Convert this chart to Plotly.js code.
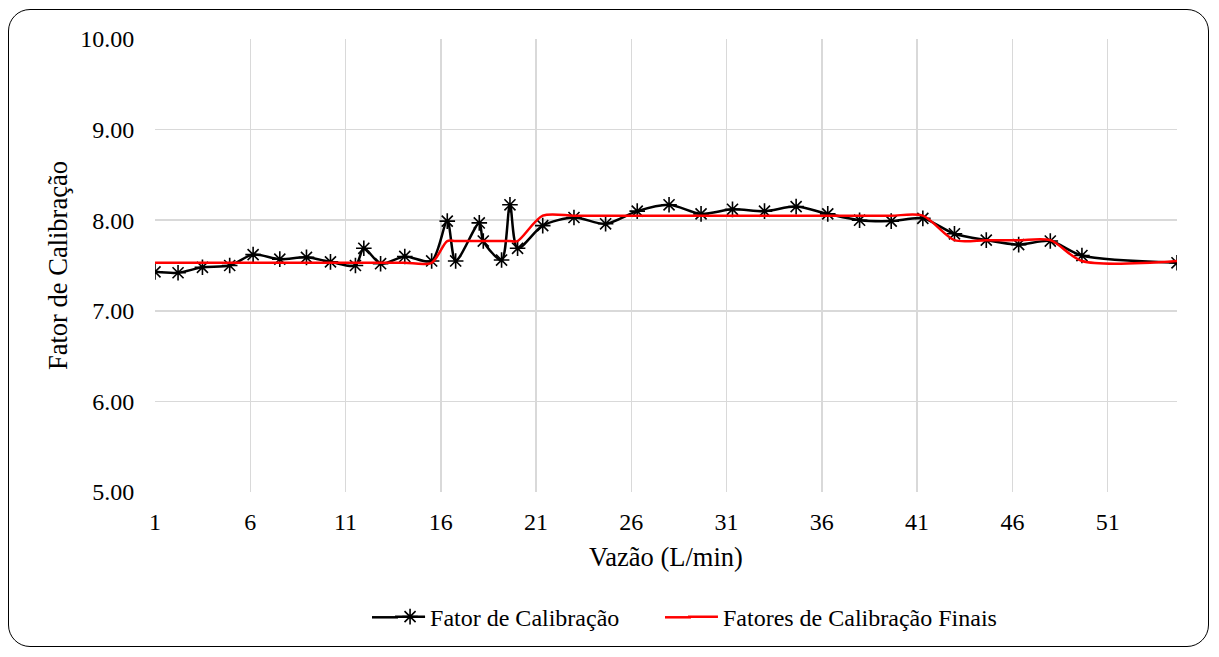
<!DOCTYPE html>
<html>
<head>
<meta charset="utf-8">
<script src="https://cdn.plot.ly/plotly-3.0.1.min.js"></script>
<style>
  html, body { margin: 0; padding: 0; background: #fff; }
  #wrap { position: relative; width: 1219px; height: 657px; }
  #chart { width: 1219px; height: 657px; }
  #frame { position: absolute; left: 8px; top: 9px; width: 1201px; height: 638px;
           border: 1.6px solid #000; border-radius: 22px; pointer-events: none; box-sizing: border-box; }
</style>
</head>
<body>
<div id="wrap">
  <div id="chart"></div>
  <div id="frame"></div>
</div>
<script>
// Vazão (L/min)
const vazao = [1, 2.21, 3.49, 4.92, 6.15, 7.55, 8.95, 10.21, 11.52, 11.96, 12.84, 14.11, 15.52,
  16.34, 16.78, 18.02, 18.23, 19.19, 19.63, 20.03, 21.35, 22.99, 24.65, 26.31, 27.98, 29.66,
  31.31, 32.99, 34.65, 36.31, 37.98, 39.64, 41.30, 42.96, 44.63, 46.33, 47.99, 49.65, 54.64];
// Fator de Calibração
const fator = [7.43, 7.42, 7.48, 7.50, 7.62, 7.57, 7.59, 7.54, 7.50, 7.69, 7.52, 7.60, 7.55,
  7.99, 7.55, 7.97, 7.77, 7.56, 8.17, 7.69, 7.94, 8.03, 7.96, 8.10, 8.17, 8.07,
  8.12, 8.10, 8.15, 8.07, 8.00, 7.99, 8.02, 7.85, 7.78, 7.73, 7.77, 7.61, 7.53];
// Fatores de Calibração Finais
const fatorFinal = [7.53, 7.53, 7.53, 7.53, 7.53, 7.53, 7.53, 7.53, 7.53, 7.53, 7.53, 7.53, 7.53,
  7.77, 7.77, 7.77, 7.77, 7.77, 7.77, 7.77, 8.05, 8.05, 8.05, 8.05, 8.05, 8.05,
  8.05, 8.05, 8.05, 8.05, 8.05, 8.05, 8.05, 7.78, 7.78, 7.78, 7.78, 7.55, 7.55];
const xTicks = [1, 6, 11, 16, 21, 26, 31, 36, 41, 46, 51];
const yTicks = [5, 6, 7, 8, 9, 10];

const FONT = 'Times New Roman, Liberation Serif, serif';

const traces = [
  {
    x: vazao, y: fator, name: 'Fator de Calibração', type: 'scatter', mode: 'lines+markers',
    legend: 'legend',
    line: { color: '#000000', width: 2.5, shape: 'spline', smoothing: 0.8 },
    marker: { symbol: 'asterisk-open', size: 13, color: '#000000', line: { color: '#000000', width: 1.6 } }
  },
  {
    x: vazao, y: fatorFinal, name: 'Fatores de Calibração Finais', type: 'scatter', mode: 'lines',
    legend: 'legend2',
    line: { color: '#ff0000', width: 2.5, shape: 'spline', smoothing: 0.8 }
  }
];

const legendBase = {
  orientation: 'h', y: -0.276, yanchor: 'middle', xanchor: 'left',
  font: { family: FONT, size: 24, color: '#000000' }, bgcolor: 'rgba(0,0,0,0)'
};

// plot area geometry used to place legend-symbol extensions (paper units)
const PL = 155, PW = 1022, PB = 492, PH = 453;
const px2x = p => (p - PL) / PW;
const py2y = p => (PB - p) / PH;
const legY = py2y(617.3);

const layout = {
  width: 1219, height: 657,
  margin: { l: 155, r: 42, t: 39, b: 165 },
  paper_bgcolor: '#ffffff', plot_bgcolor: '#ffffff',
  font: { family: FONT, size: 24, color: '#000000' },
  showlegend: true,
  legend: Object.assign({}, legendBase, { x: 0.23 }),
  legend2: Object.assign({}, legendBase, { x: 0.5166 }),
  shapes: [
    { type: 'line', xref: 'paper', yref: 'paper', x0: px2x(372), x1: px2x(398), y0: legY, y1: legY,
      line: { color: '#000000', width: 2.5 } },
    { type: 'line', xref: 'paper', yref: 'paper', x0: px2x(665), x1: px2x(691), y0: legY, y1: legY,
      line: { color: '#ff0000', width: 2.5 } }
  ],
  xaxis: {
    range: [1, 54.64], tickvals: xTicks, ticktext: xTicks.map(String),
    showgrid: true, gridcolor: '#d9d9d9', gridwidth: 1.5, zeroline: false,
    showline: false, ticks: 'outside', ticklen: 8, tickcolor: 'rgba(0,0,0,0)',
    tickfont: { family: FONT, size: 24, color: '#000' },
    title: { text: 'Vazão (L/min)', font: { family: FONT, size: 26.5, color: '#000' }, standoff: 13 }
  },
  yaxis: {
    range: [5, 10], tickvals: yTicks, ticktext: yTicks.map(v => v.toFixed(2)),
    showgrid: true, gridcolor: '#d9d9d9', gridwidth: 1.5, zeroline: false,
    showline: false, ticks: 'outside', ticklen: 15, tickcolor: 'rgba(0,0,0,0)',
    tickfont: { family: FONT, size: 24, color: '#000' },
    title: { text: 'Fator de Calibração', font: { family: FONT, size: 26.5, color: '#000' }, standoff: 4 }
  }
};

Plotly.newPlot('chart', traces, layout, { displayModeBar: false, staticPlot: true });
</script>
</body>
</html>
